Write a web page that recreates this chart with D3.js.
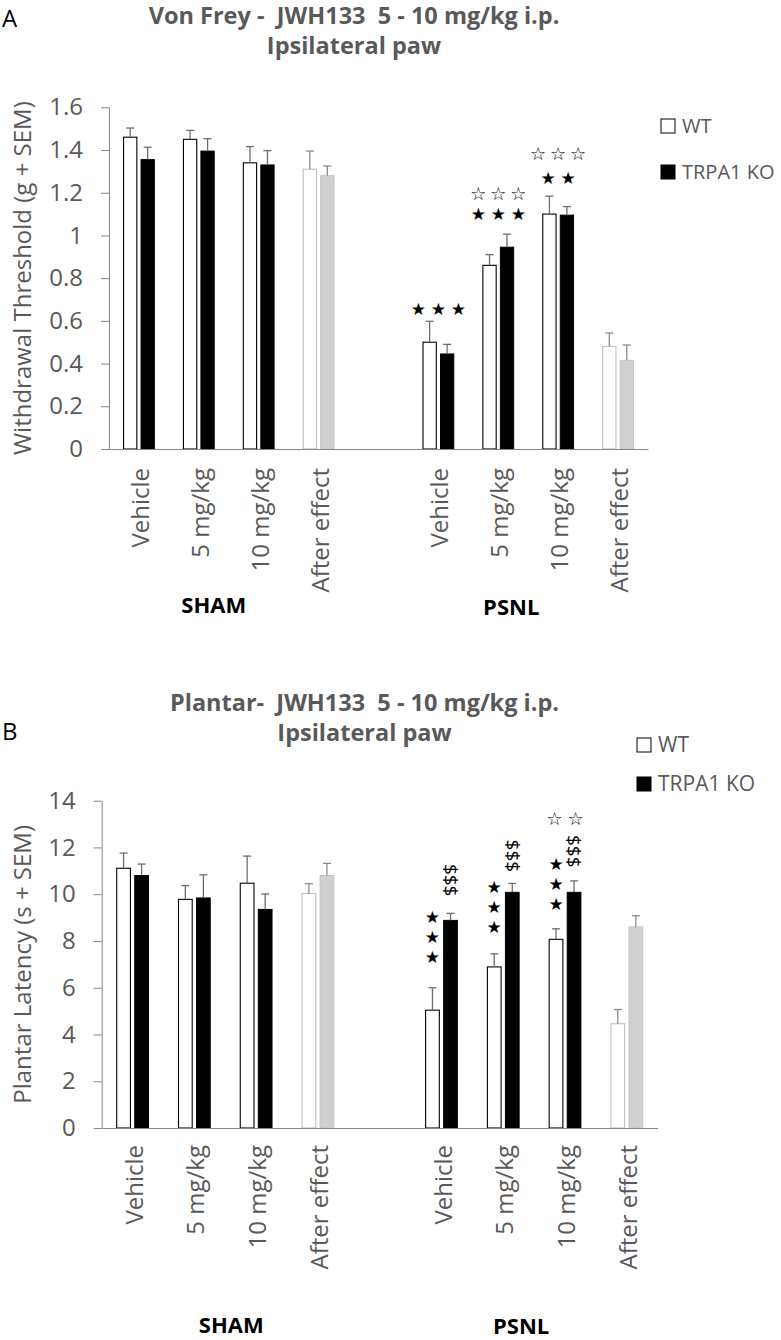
<!DOCTYPE html>
<html><head><meta charset="utf-8">
<script src="https://cdn.jsdelivr.net/npm/d3@7"></script>
<style>
body{margin:0;background:#fff}
svg text{white-space:pre}
</style>
</head><body>
<svg id="chart" width="781" height="1340"></svg>
<script>
// ---------------- DATA ----------------
const groups = ["SHAM", "PSNL"];
const conditions = ["Vehicle", "5 mg/kg", "10 mg/kg", "After effect"];
const slots = ["SHAM|Vehicle","SHAM|5 mg/kg","SHAM|10 mg/kg","SHAM|After effect","gap",
               "PSNL|Vehicle","PSNL|5 mg/kg","PSNL|10 mg/kg","PSNL|After effect"];
const seriesNames = ["WT", "TRPA1 KO"];

// Panel A – Von Frey withdrawal threshold (g)
const vfTickValues = [0, 0.2, 0.4, 0.6, 0.8, 1, 1.2, 1.4, 1.6];
const vfTickLabels = ["0", "0.2", "0.4", "0.6", "0.8", "1", "1.2", "1.4", "1.6"];
const vfWT     = [1.46, 1.45, 1.34, 1.31, 0.50, 0.86, 1.10, 0.48];
const vfWTsem  = [0.043, 0.042, 0.076, 0.085, 0.098, 0.050, 0.084, 0.063];
const vfKO     = [1.355, 1.395, 1.33, 1.28, 0.445, 0.945, 1.095, 0.415];
const vfKOsem  = [0.058, 0.058, 0.067, 0.045, 0.045, 0.061, 0.040, 0.072];
// significance rows (horizontal) : slot, glyph, count, level (g)
const vfSigSlot  = ["PSNL|Vehicle", "PSNL|5 mg/kg", "PSNL|5 mg/kg", "PSNL|10 mg/kg", "PSNL|10 mg/kg"];
const vfSigGlyph = ["★", "★", "☆", "★", "☆"];
const vfSigCount = [3, 3, 3, 2, 3];
const vfSigLevel = [0.655, 1.10, 1.195, 1.268, 1.385];

// Panel B – Plantar latency (s)
const plTickValues = [0, 2, 4, 6, 8, 10, 12, 14];
const plTickLabels = ["0", "2", "4", "6", "8", "10", "12", "14"];
const plWT     = [11.11, 9.78, 10.47, 10.03, 5.04, 6.89, 8.07, 4.46];
const plWTsem  = [0.65, 0.59, 1.16, 0.42, 0.96, 0.56, 0.45, 0.61];
const plKO     = [10.80, 9.84, 9.35, 10.80, 8.88, 10.08, 10.08, 8.60];
const plKOsem  = [0.49, 0.99, 0.66, 0.52, 0.30, 0.38, 0.49, 0.48];
// vertical stacks of stars over WT bars : slot, count, level of lowest star (s)
const plStarSlot  = ["PSNL|Vehicle", "PSNL|5 mg/kg", "PSNL|10 mg/kg"];
const plStarCount = [3, 3, 3];
const plStarLevel = [7.34, 8.60, 9.57];
// "$$$" over KO bars : slot, centre level (s)
const plDollarSlot  = ["PSNL|Vehicle", "PSNL|5 mg/kg", "PSNL|10 mg/kg"];
const plDollarText  = ["$$$", "$$$", "$$$"];
const plDollarLevel = [10.6, 11.64, 11.84];
// open stars row
const plOpenSlot  = ["PSNL|10 mg/kg"];
const plOpenCount = [2];
const plOpenLevel = [13.24];

// ---------------- DRAW ----------------
const svg = d3.select("#chart");
const GRAY_TXT = "#595959", AXIS = "#868686", ERR = "#6d6d6d";
const FONT = "'Open Sans', sans-serif";
const STARFONT = "'DejaVu Sans', sans-serif";

function rows(wt, wtSem, ko, koSem) {
  const keys = slots.filter(s => s !== "gap");
  return keys.map((k, i) => ({slot: k, cond: k.split("|")[1], after: k.endsWith("After effect"),
    wt: wt[i], wtSem: wtSem[i], ko: ko[i], koSem: koSem[i]}));
}

function panel(cfg) {
  const g = svg.append("g");
  const x = d3.scaleBand().domain(slots).range([cfg.x0, cfg.x1]).paddingInner(0).paddingOuter(0);
  const y = d3.scaleLinear().domain([0, cfg.max]).range([cfg.yBottom, cfg.yTop]);
  const bw = x.bandwidth() * 0.222, gap = x.bandwidth() * 0.07;
  const cx = s => x(s) + x.bandwidth() / 2;
  const wtX = s => cx(s) - gap / 2 - bw;
  const koX = s => cx(s) + gap / 2;

  // y axis
  const ax = g.append("g").attr("transform", `translate(${cfg.x0},0)`)
    .call(d3.axisLeft(y).tickValues(cfg.tickValues)
      .tickFormat((d, i) => cfg.tickLabels[i]).tickSize(8).tickSizeOuter(0).tickPadding(18));
  ax.select(".domain").attr("stroke", AXIS);
  ax.selectAll(".tick line").attr("stroke", AXIS);
  ax.selectAll(".tick text").attr("fill", GRAY_TXT).style("font-family", FONT).style("font-size", "24px");

  // y title
  g.append("text").attr("transform", `translate(31,${(cfg.yTop + cfg.yBottom) / 2}) rotate(-90)`)
    .attr("text-anchor", "middle").attr("fill", GRAY_TXT)
    .style("font-family", FONT).style("font-size", "24px").text(cfg.yTitle);

  const data = rows(cfg.wt, cfg.wtSem, cfg.ko, cfg.koSem);

  // bars
  g.selectAll(".wt").data(data).join("rect")
    .attr("x", d => wtX(d.slot)).attr("width", bw)
    .attr("y", d => y(d.wt)).attr("height", d => y(0) - y(d.wt))
    .attr("fill", "#fff").attr("stroke", d => d.after ? "#bfbfbf" : "#000").attr("stroke-width", 1.1);
  g.selectAll(".ko").data(data).join("rect")
    .attr("x", d => koX(d.slot)).attr("width", bw)
    .attr("y", d => y(d.ko)).attr("height", d => y(0) - y(d.ko))
    .attr("fill", d => d.after ? "#d0d0d0" : "#000").attr("stroke", d => d.after ? "#c4c4c4" : "#000").attr("stroke-width", 1);

  // error bars
  const errs = [];
  data.forEach(d => {
    errs.push({x: wtX(d.slot) + bw / 2, v: d.wt, s: d.wtSem, after: d.after});
    errs.push({x: koX(d.slot) + bw / 2, v: d.ko, s: d.koSem, after: d.after});
  });
  const eg = g.selectAll(".err").data(errs).join("g").attr("stroke", d => d.after ? "#8c8c8c" : ERR).attr("stroke-width", 1.3);
  eg.append("line").attr("x1", d => d.x).attr("x2", d => d.x).attr("y1", d => y(d.v)).attr("y2", d => y(d.v + d.s));
  eg.append("line").attr("x1", d => d.x - 4).attr("x2", d => d.x + 4).attr("y1", d => y(d.v + d.s)).attr("y2", d => y(d.v + d.s));

  // x axis line
  const xa = g.append("g").attr("transform", `translate(0,${cfg.yBottom})`)
    .call(d3.axisBottom(x).tickSize(0).tickFormat(""));
  xa.select(".domain").attr("stroke", AXIS);

  // category labels
  g.selectAll(".cat").data(data).join("text")
    .attr("transform", d => `translate(${cx(d.slot)},${cfg.yBottom + cfg.catGap}) rotate(-90)`)
    .attr("dy", "0.42em").attr("text-anchor", "end").attr("fill", GRAY_TXT)
    .style("font-family", FONT).style("font-size", "24px").text(d => d.cond);

  // group labels
  groups.forEach((grp, i) => {
    const a = cx(grp + "|5 mg/kg"), b = cx(grp + "|10 mg/kg");
    g.append("text").attr("x", (a + b) / 2 + cfg.groupShift[i]).attr("y", cfg.groupY[i])
      .attr("text-anchor", "middle").attr("fill", "#000")
      .style("font-family", FONT).style("font-weight", "bold").style("font-size", "22px").text(grp);
  });

  // titles
  cfg.title.forEach((t, i) => {
    g.append("text").attr("x", cfg.titleX).attr("y", cfg.titleY[i]).attr("text-anchor", "middle")
      .attr("fill", GRAY_TXT).style("font-family", FONT).style("font-weight", "bold").style("font-size", "23.5px").text(t);
  });
  g.append("text").attr("x", 2).attr("y", cfg.letterY).attr("fill", "#000")
    .style("font-family", FONT).style("font-size", "24px").text(cfg.letter);

  // legend
  seriesNames.forEach((n, i) => {
    const ly = cfg.legY + i * cfg.legGap;
    g.append("rect").attr("x", cfg.legX).attr("y", ly - 7).attr("width", 14).attr("height", 14)
      .attr("fill", i === 0 ? "#fff" : "#000").attr("stroke", "#000").attr("stroke-width", 1);
    g.append("text").attr("x", cfg.legX + 21).attr("y", ly).attr("dy", "0.35em").attr("fill", GRAY_TXT)
      .style("font-family", FONT).style("font-size", cfg.legFont + "px").text(n);
  });

  return {g, x, y, cx, wtX, koX, bw};
}

// Panel A
const A = panel({
  x0: 109, x1: 648, yTop: 107.3, yBottom: 449, max: 1.6,
  tickValues: vfTickValues, tickLabels: vfTickLabels,
  yTitle: "Withdrawal Threshold (g + SEM)",
  wt: vfWT, wtSem: vfWTsem, ko: vfKO, koSem: vfKOsem, catGap: 19,
  groupShift: [-15, -17], groupY: [613, 615],
  title: ["Von Frey -  JWH133  5 - 10 mg/kg i.p.", "Ipsilateral paw"], titleX: 354, titleY: [24, 54],
  letter: "A", letterY: 27,
  legX: 661, legY: 126, legGap: 46, legFont: 20
});
// significance rows (panel A)
vfSigSlot.forEach((s, i) => {
  const n = vfSigCount[i];
  const open = vfSigGlyph[i] === "☆";
  for (let k = 0; k < n; k++) {
    A.g.append("text").attr("x", A.cx(s) + (k - (n - 1) / 2) * 20).attr("y", A.y(vfSigLevel[i]))
      .attr("dy", "0.36em").attr("text-anchor", "middle").attr("fill", "#000")
      .style("font-family", STARFONT).style("font-size", open ? "18px" : "17px").text(vfSigGlyph[i]);
  }
});

// Panel B
const B = panel({
  x0: 101.7, x1: 657.7, yTop: 800.7, yBottom: 1128, max: 14,
  tickValues: plTickValues, tickLabels: plTickLabels,
  yTitle: "Plantar Latency (s + SEM)",
  wt: plWT, wtSem: plWTsem, ko: plKO, koSem: plKOsem, catGap: 17,
  groupShift: [6, -13], groupY: [1333, 1334],
  title: ["Plantar-  JWH133  5 - 10 mg/kg i.p.", "Ipsilateral paw"], titleX: 364.5, titleY: [711, 741],
  letter: "B", letterY: 740,
  legX: 637, legY: 745, legGap: 39, legFont: 21
});
plStarSlot.forEach((s, i) => {
  for (let k = 0; k < plStarCount[i]; k++) {
    B.g.append("text").attr("x", B.wtX(s) + B.bw / 2).attr("y", B.y(plStarLevel[i]) - k * 20)
      .attr("dy", "0.36em").attr("text-anchor", "middle").attr("fill", "#000")
      .style("font-family", STARFONT).style("font-size", "17px").text("★");
  }
});
plDollarSlot.forEach((s, i) => {
  B.g.append("text").attr("transform", `translate(${B.koX(s) + B.bw / 2},${B.y(plDollarLevel[i])}) rotate(90)`)
    .attr("dy", "0.35em").attr("text-anchor", "middle").attr("fill", "#000")
    .style("font-family", FONT).style("font-size", "19px").text(plDollarText[i]);
});
plOpenSlot.forEach((s, i) => {
  const n = plOpenCount[i];
  for (let k = 0; k < n; k++) {
    B.g.append("text").attr("x", B.cx(s) + (k - (n - 1) / 2) * 21).attr("y", B.y(plOpenLevel[i]))
      .attr("dy", "0.36em").attr("text-anchor", "middle").attr("fill", "#000")
      .style("font-family", STARFONT).style("font-size", "18px").text("☆");
  }
});
</script>
</body></html>
